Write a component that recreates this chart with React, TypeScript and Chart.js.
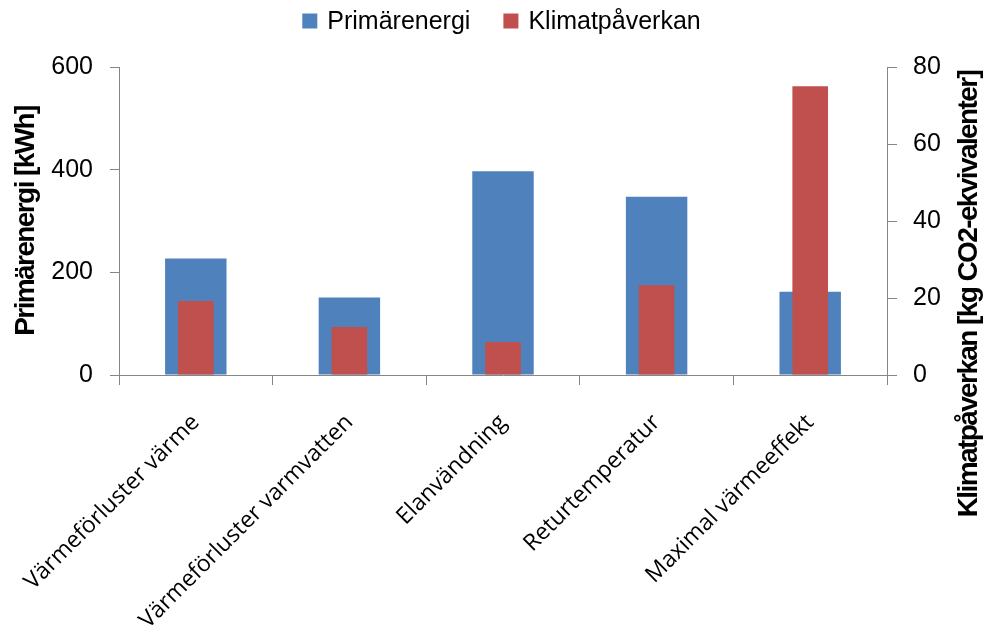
import React, { useEffect, useRef } from "react";
import { Chart, registerables } from "chart.js";

Chart.register(...registerables);

// Categories and series
const categories = [
  "Värmeförluster värme",
  "Värmeförluster varmvatten",
  "Elanvändning",
  "Returtemperatur",
  "Maximal värmeeffekt",
];
const primaryEnergy = [227, 151, 397, 347, 162];
const climateImpact = [19.2, 12.5, 8.6, 23.3, 75];
const seriesNames = ["Primärenergi", "Klimatpåverkan"];
const axisTitles = ["Primärenergi [kWh]", "Klimatpåverkan [kg CO2-ekvivalenter]"];
const energyRange = [0, 600, 200];
const climateRange = [0, 80, 20];

const BLUE = "#4F81BD";
const RED = "#C0504D";
const AXIS = "#868686";
const SANS = "'Liberation Sans', Arial, sans-serif";

// Legend and rotated axis titles, painted on top of the chart
const decorations = {
  id: "decorations",
  afterDraw(chart: Chart) {
    const ctx = chart.ctx;
    ctx.save();
    // legend
    ctx.font = `25px ${SANS}`;
    ctx.textBaseline = "middle";
    ctx.textAlign = "left";
    const box = 15;
    const gap = 10;
    const spacing = 33;
    const colors = [BLUE, RED];
    const widths = seriesNames.map((n) => box + gap + ctx.measureText(n).width);
    const total = widths.reduce((a, b) => a + b, 0) + spacing * (widths.length - 1);
    let x = 501.5 - total / 2;
    const cy = 21;
    seriesNames.forEach((name, i) => {
      ctx.fillStyle = colors[i];
      ctx.fillRect(x, cy - box / 2, box, box);
      ctx.fillStyle = "#000";
      ctx.fillText(name, x + box + gap, cy + 1);
      x += widths[i] + spacing;
    });

    // axis titles
    ctx.font = `bold 28px ${SANS}`;
    (ctx as any).letterSpacing = "-1.6px";
    ctx.textAlign = "center";
    ctx.textBaseline = "alphabetic";
    const area = chart.chartArea;
    ctx.fillStyle = "#000";
    ctx.save();
    ctx.translate(34, (area.top + area.bottom) / 2);
    ctx.rotate(-Math.PI / 2);
    ctx.fillText(axisTitles[0], 0, 0);
    ctx.restore();
    ctx.save();
    ctx.translate(977, 294);
    ctx.rotate(-Math.PI / 2);
    ctx.fillText(axisTitles[1], 0, 0);
    ctx.restore();
    ctx.restore();
  },
};

export default function App() {
  const canvasRef = useRef<HTMLCanvasElement | null>(null);

  useEffect(() => {
    if (!canvasRef.current) return;
    const chart = new Chart(canvasRef.current, {
      type: "bar",
      data: {
        labels: categories,
        datasets: [
          {
            label: seriesNames[0],
            data: primaryEnergy,
            backgroundColor: BLUE,
            yAxisID: "y",
            grouped: false,
            barPercentage: 0.4,
            categoryPercentage: 1,
            order: 1,
          },
          {
            label: seriesNames[1],
            data: climateImpact,
            backgroundColor: RED,
            yAxisID: "y1",
            grouped: false,
            barPercentage: 0.232,
            categoryPercentage: 1,
            order: 0,
          },
        ],
      },
      options: {
        animation: false,
        responsive: true,
        maintainAspectRatio: false,
        layout: { padding: { top: 67, left: 0, right: 0, bottom: 0 } },
        plugins: {
          legend: { display: false },
          tooltip: { enabled: false },
          title: { display: false },
        },
        scales: {
          x: {
            offset: true,
            grid: {
              offset: true,
              drawOnChartArea: false,
              drawTicks: true,
              tickLength: 10,
              color: AXIS,
            },
            border: { color: AXIS, width: 1 },
            ticks: {
              minRotation: 45,
              maxRotation: 45,
              autoSkip: false,
              padding: 24,
              color: "#000",
              font: { family: "'Open Sans', sans-serif", size: 23 },
            },
            afterFit: (scale: any) => {
              scale.height = 254;
              scale.paddingLeft = 0;
              scale.paddingRight = 0;
            },
          },
          y: {
            position: "left",
            min: energyRange[0],
            max: energyRange[1],
            grid: {
              drawOnChartArea: false,
              drawTicks: true,
              tickLength: 9,
              color: AXIS,
            },
            border: { color: AXIS, width: 1 },
            ticks: {
              stepSize: energyRange[2],
              padding: 17,
              color: "#000",
              font: { family: SANS, size: 25 },
            },
            afterFit: (scale: any) => {
              scale.width = 119;
            },
          },
          y1: {
            position: "right",
            min: climateRange[0],
            max: climateRange[1],
            grid: {
              drawOnChartArea: false,
              drawTicks: true,
              tickLength: 10,
              color: AXIS,
            },
            border: { color: AXIS, width: 1 },
            ticks: {
              stepSize: climateRange[2],
              padding: 16,
              color: "#000",
              font: { family: SANS, size: 25 },
            },
            afterFit: (scale: any) => {
              scale.width = 98;
            },
          },
        },
      },
      plugins: [decorations],
    });
    return () => chart.destroy();
  }, []);

  return (
    <div style={{ position: "fixed", left: 0, top: 0, width: 985, height: 629, background: "#fff" }}>
      <canvas ref={canvasRef} />
    </div>
  );
}
